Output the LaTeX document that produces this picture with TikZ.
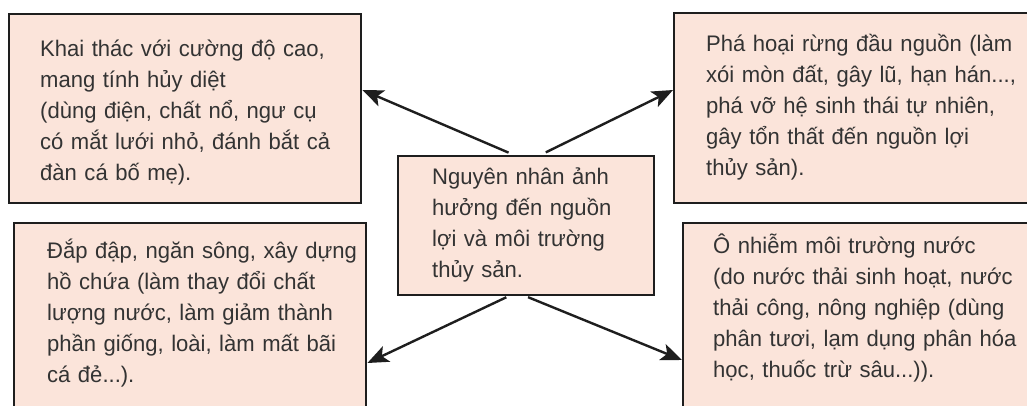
\documentclass[tikz,border=0pt]{standalone}
\usepackage{fontspec}
\setmainfont[FakeStretch=0.98]{Liberation Sans}
\usetikzlibrary{arrows.meta,calc}
\definecolor{boxfill}{HTML}{FBE4DA}
\definecolor{boxline}{HTML}{1E1E1E}
\definecolor{txtcol}{HTML}{333333}
\tikzset{
  box/.style={draw=boxline, fill=boxfill, line width=2.4pt, inner sep=0pt, anchor=north west},
  txt/.style={anchor=base west, inner sep=0pt, align=left, text=txtcol,
    font=\fontsize{22.5}{31}\selectfont},
  arr/.style={draw=boxline, line width=2.4pt, -{Stealth[length=21pt,width=17pt,inset=5pt]}}
}
\begin{document}
\begin{tikzpicture}[x=1pt,y=-1pt]
\useasboundingbox[fill=white] (0,0) rectangle (1027,405);
% boxes
\node[box, minimum width=352pt, minimum height=189pt] (tl) at (8,13) {};
\node[box, minimum width=370pt, minimum height=190pt] (tr) at (673,12) {};
\node[box, minimum width=256pt, minimum height=139pt] (c) at (397,155) {};
\node[box, minimum width=352pt, minimum height=200pt] (bl) at (13,222) {};
\node[box, minimum width=360pt, minimum height=200pt] (br) at (682,222) {};
% texts
\node[txt, text width=330pt] (tlt) at (40,56) {Khai thác với cường độ cao,\\mang tính hủy diệt\\(dùng điện, chất nổ, ngư cụ\\có mắt lưới nhỏ, đánh bắt cả\\đàn cá bố mẹ).};
\node[txt, text width=330pt] (trt) at (706,51) {Phá hoại rừng đầu nguồn (làm\\xói mòn đất, gây lũ, hạn hán...,\\phá vỡ hệ sinh thái tự nhiên,\\gây tổn thất đến nguồn lợi\\thủy sản).};
\node[txt, text width=220pt] (ct) at (432,184) {Nguyên nhân ảnh\\hưởng đến nguồn\\lợi và môi trường\\thủy sản.};
\node[txt, text width=330pt] (blt) at (47,258) {Đắp đập, ngăn sông, xây dựng\\hồ chứa (làm thay đổi chất\\lượng nước, làm giảm thành\\phần giống, loài, làm mất bãi\\cá đẻ...).};
\node[txt, text width=330pt] (brt) at (713,253) {Ô nhiễm môi trường nước\\(do nước thải sinh hoạt, nước\\thải công, nông nghiệp (dùng\\phân tươi, lạm dụng phân hóa\\học, thuốc trừ sâu...)).};
% arrows
\draw[arr, shorten <=6pt] ($(c.north west)!0.453!(c.north east)$) -- ($(tl.north east)+(0,77)$);
\draw[arr, shorten <=6pt] ($(c.north west)!0.555!(c.north east)$) -- ($(tr.north west)+(0,78)$);
\draw[arr, shorten <=2pt] ($(c.south west)!0.43!(c.south east)$) -- ($(bl.north east)+(0,141)$);
\draw[arr, shorten <=2pt] ($(c.south west)!0.5!(c.south east)$) -- ($(br.north west)+(0,138)$);
\end{tikzpicture}
\end{document}
